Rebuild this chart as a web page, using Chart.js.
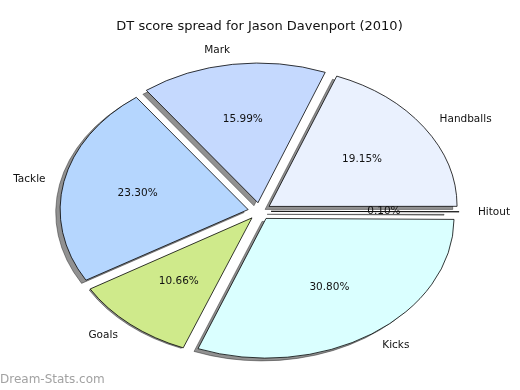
<!DOCTYPE html>
<html lang="en">
<head>
<meta charset="UTF-8">
<title>DT score spread for Jason Davenport (2010)</title>
<script src="https://cdn.jsdelivr.net/npm/chart.js"></script>
<style>
  html, body { margin: 0; padding: 0; background: #fff; }
  #wrap { width: 520px; height: 390px; }
</style>
</head>
<body>
<div id="wrap"><canvas id="pieChart" width="520" height="390"></canvas></div>
<script>
// data, in the order the slices go round (counter-clockwise from 3 o'clock)
const categories = ["Handballs", "Mark", "Tackle", "Goals", "Kicks", "Hitout"];
const shares = [19.15, 15.99, 23.30, 10.66, 30.80, 0.10];
const sliceColors = ["#eaf1fe", "#c5d9fe", "#b5d6fe", "#cfea8b", "#daffff", "#f3e2c0"];

const FONT = "'DejaVu Sans', Verdana, sans-serif";
const RADIUS = 188;      // horizontal radius in px
const Y_SQUASH = 0.743;  // pie is stretched like the original (not equal aspect)
const EXPLODE = 11.6;    // px each slice is pulled out

// Chart.js draws clockwise, so flip the order
const cwLabels = categories.slice().reverse();
const cwValues = shares.slice().reverse();
const cwColors = sliceColors.slice().reverse();

function squash(ctx, a) {
    ctx.translate(a.x, a.y);
    ctx.scale(1, Y_SQUASH);
    ctx.translate(-a.x, -a.y);
}

const ellipsePie = {
    id: "ellipsePie",
    afterDatasetsUpdate(chart) {
        // Chart.js makes small exploded arcs bigger by the offset; undo that
        const meta = chart.getDatasetMeta(0);
        const R = meta.controller.outerRadius;
        meta.data.forEach(arc => {
            const off = (arc.options.offset || 0) / 4;
            const fix = 1 - Math.sin(Math.min(Math.PI, arc.circumference));
            arc.outerRadius = R - off * fix;
        });
    },
    beforeDatasetsDraw(chart) {
        const ctx = chart.ctx;
        const arcs = chart.getDatasetMeta(0).data;
        const a = arcs[0];

        // drop shadows under all slices
        ctx.save();
        ctx.translate(-4, 3);
        squash(ctx, a);
        ctx.fillStyle = "rgba(0, 0, 0, 0.43)";
        ctx.strokeStyle = "rgba(0, 0, 0, 0.43)";
        ctx.lineWidth = 1;
        arcs.forEach(arc => {
            const mid = (arc.startAngle + arc.endAngle) / 2;
            const off = (arc.options.offset || 0) / 4;
            const cx = arc.x + off * Math.cos(mid);
            const cy = arc.y + off * Math.sin(mid);
            ctx.beginPath();
            ctx.moveTo(cx, cy);
            ctx.arc(cx, cy, arc.outerRadius + 0.5, arc.startAngle, arc.endAngle);
            ctx.closePath();
            ctx.fill();
            ctx.stroke();
        });
        ctx.restore();

        ctx.save();
        squash(ctx, a);
    },
    afterDatasetsDraw(chart) {
        const ctx = chart.ctx;
        ctx.restore();

        const meta = chart.getDatasetMeta(0);
        const R = meta.controller.outerRadius;
        ctx.save();
        ctx.fillStyle = "#111";
        ctx.font = "10.5px " + FONT;
        ctx.textBaseline = "middle";
        meta.data.forEach((arc, i) => {
            const mid = (arc.startAngle + arc.endAngle) / 2;
            const off = (arc.options.offset || 0) / 4;
            const cos = Math.cos(mid), sin = Math.sin(mid);
            const ex = off * cos, ey = off * sin;

            // category label at 1.1 r
            const lx = ex + 1.1 * R * cos;
            const ly = ey + 1.1 * R * sin;
            ctx.textAlign = lx > 0 ? "left" : "right";
            ctx.fillText(cwLabels[i], arc.x + lx, arc.y + ly * Y_SQUASH);

            // percentage at 0.6 r
            const px = ex + 0.6 * R * cos;
            const py = ey + 0.6 * R * sin;
            ctx.textAlign = "center";
            ctx.fillText(cwValues[i].toFixed(2) + "%", arc.x + px, arc.y + py * Y_SQUASH);
        });
        ctx.restore();
    },
    afterDraw(chart) {
        const ctx = chart.ctx;
        ctx.save();
        ctx.fillStyle = "#a2a2a2";
        ctx.font = "12px " + FONT;
        ctx.textAlign = "left";
        ctx.textBaseline = "middle";
        ctx.fillText("Dream-Stats.com", 0, 380);
        ctx.restore();
    }
};

const ctxPie = document.getElementById("pieChart").getContext("2d");
new Chart(ctxPie, {
    type: "pie",
    data: {
        labels: cwLabels,
        datasets: [{
            data: cwValues,
            backgroundColor: cwColors,
            borderColor: "#000",
            borderWidth: 0.9,
            offset: EXPLODE * 4,
            hoverOffset: EXPLODE * 4,
            clip: false
        }]
    },
    options: {
        responsive: false,
        animation: false,
        events: [],
        rotation: 90,
        radius: RADIUS,
        layout: { padding: { left: 0, right: 1, top: 0, bottom: 10 } },
        plugins: {
            legend: { display: false },
            tooltip: { enabled: false },
            title: {
                display: true,
                text: "DT score spread for Jason Davenport (2010)",
                color: "#111",
                font: { family: FONT, size: 13, weight: "normal" },
                padding: { top: 19, bottom: 8 }
            }
        }
    },
    plugins: [ellipsePie]
});
</script>
</body>
</html>
